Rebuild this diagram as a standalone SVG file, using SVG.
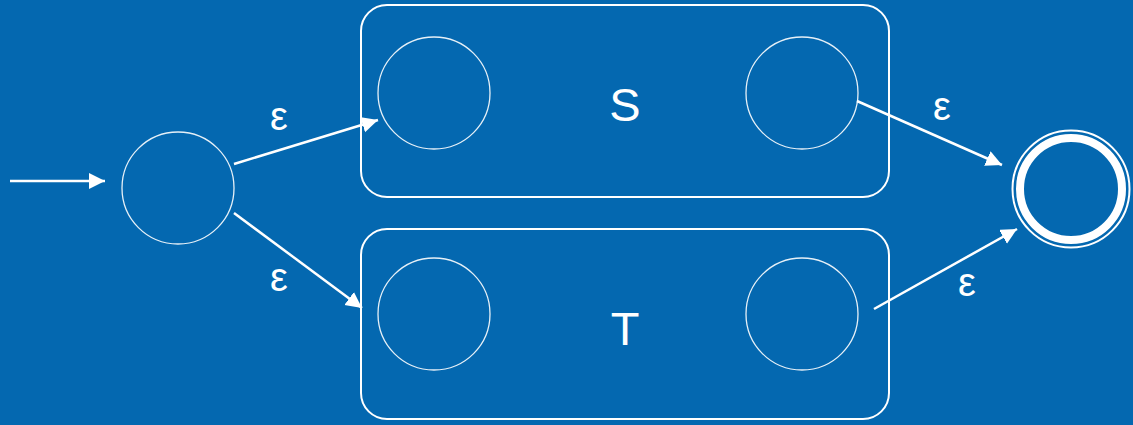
<svg xmlns="http://www.w3.org/2000/svg" width="1133" height="425" viewBox="0 0 1133 425">
<defs>
<style>
.bg{fill:#0468B0}
.box{fill:none;stroke:#fff;stroke-width:2}
.st{fill:none;stroke:#fff;stroke-width:1.3;stroke-opacity:0.9}
.edge{fill:none;stroke:#fff;stroke-width:2.5;marker-end:url(#ah)}
.lbl{fill:#fff;font-family:"Liberation Sans",Arial,sans-serif;text-anchor:middle}
.eps{font-size:40px}
.big{font-size:47px}
</style>
<marker id="ah" markerUnits="userSpaceOnUse" markerWidth="18" markerHeight="18" refX="16" refY="8" orient="auto">
<path d="M0,0 L16,8 L0,16 z" fill="#fff"/>
</marker>
</defs>
<rect class="bg" x="0" y="0" width="1133" height="425"/>
<g id="box-S">
<rect class="box" x="361" y="5" width="528" height="192" rx="26"/>
<text class="lbl big" x="625" y="121">S</text>
</g>
<g id="box-T">
<rect class="box" x="361" y="229" width="528" height="190" rx="26"/>
<text class="lbl big" x="625" y="345">T</text>
</g>
<g id="start"><circle class="st" cx="178" cy="188" r="56"/></g>
<g id="s1"><circle class="st" cx="434" cy="93" r="56"/></g>
<g id="s2"><circle class="st" cx="802" cy="93" r="56"/></g>
<g id="t1"><circle class="st" cx="434" cy="314" r="56"/></g>
<g id="t2"><circle class="st" cx="802" cy="314" r="56"/></g>
<g id="final">
<circle cx="1071" cy="189" r="58.5" fill="none" stroke="#fff" stroke-width="2"/>
<circle cx="1071" cy="189" r="51" fill="none" stroke="#fff" stroke-width="8"/>
</g>
<g id="connectors">
<path class="edge" d="M10,181 L105,181"/>
<path class="edge" d="M234,164 L378,120"/>
<path class="edge" d="M234,213 L362,308"/>
<path class="edge" d="M857,101 L1002,165"/>
<path class="edge" d="M874,309 L1017,229"/>
<text class="lbl eps" x="279" y="130">ε</text>
<text class="lbl eps" x="279" y="291">ε</text>
<text class="lbl eps" x="942" y="120">ε</text>
<text class="lbl eps" x="967" y="296">ε</text>
</g>
</svg>
